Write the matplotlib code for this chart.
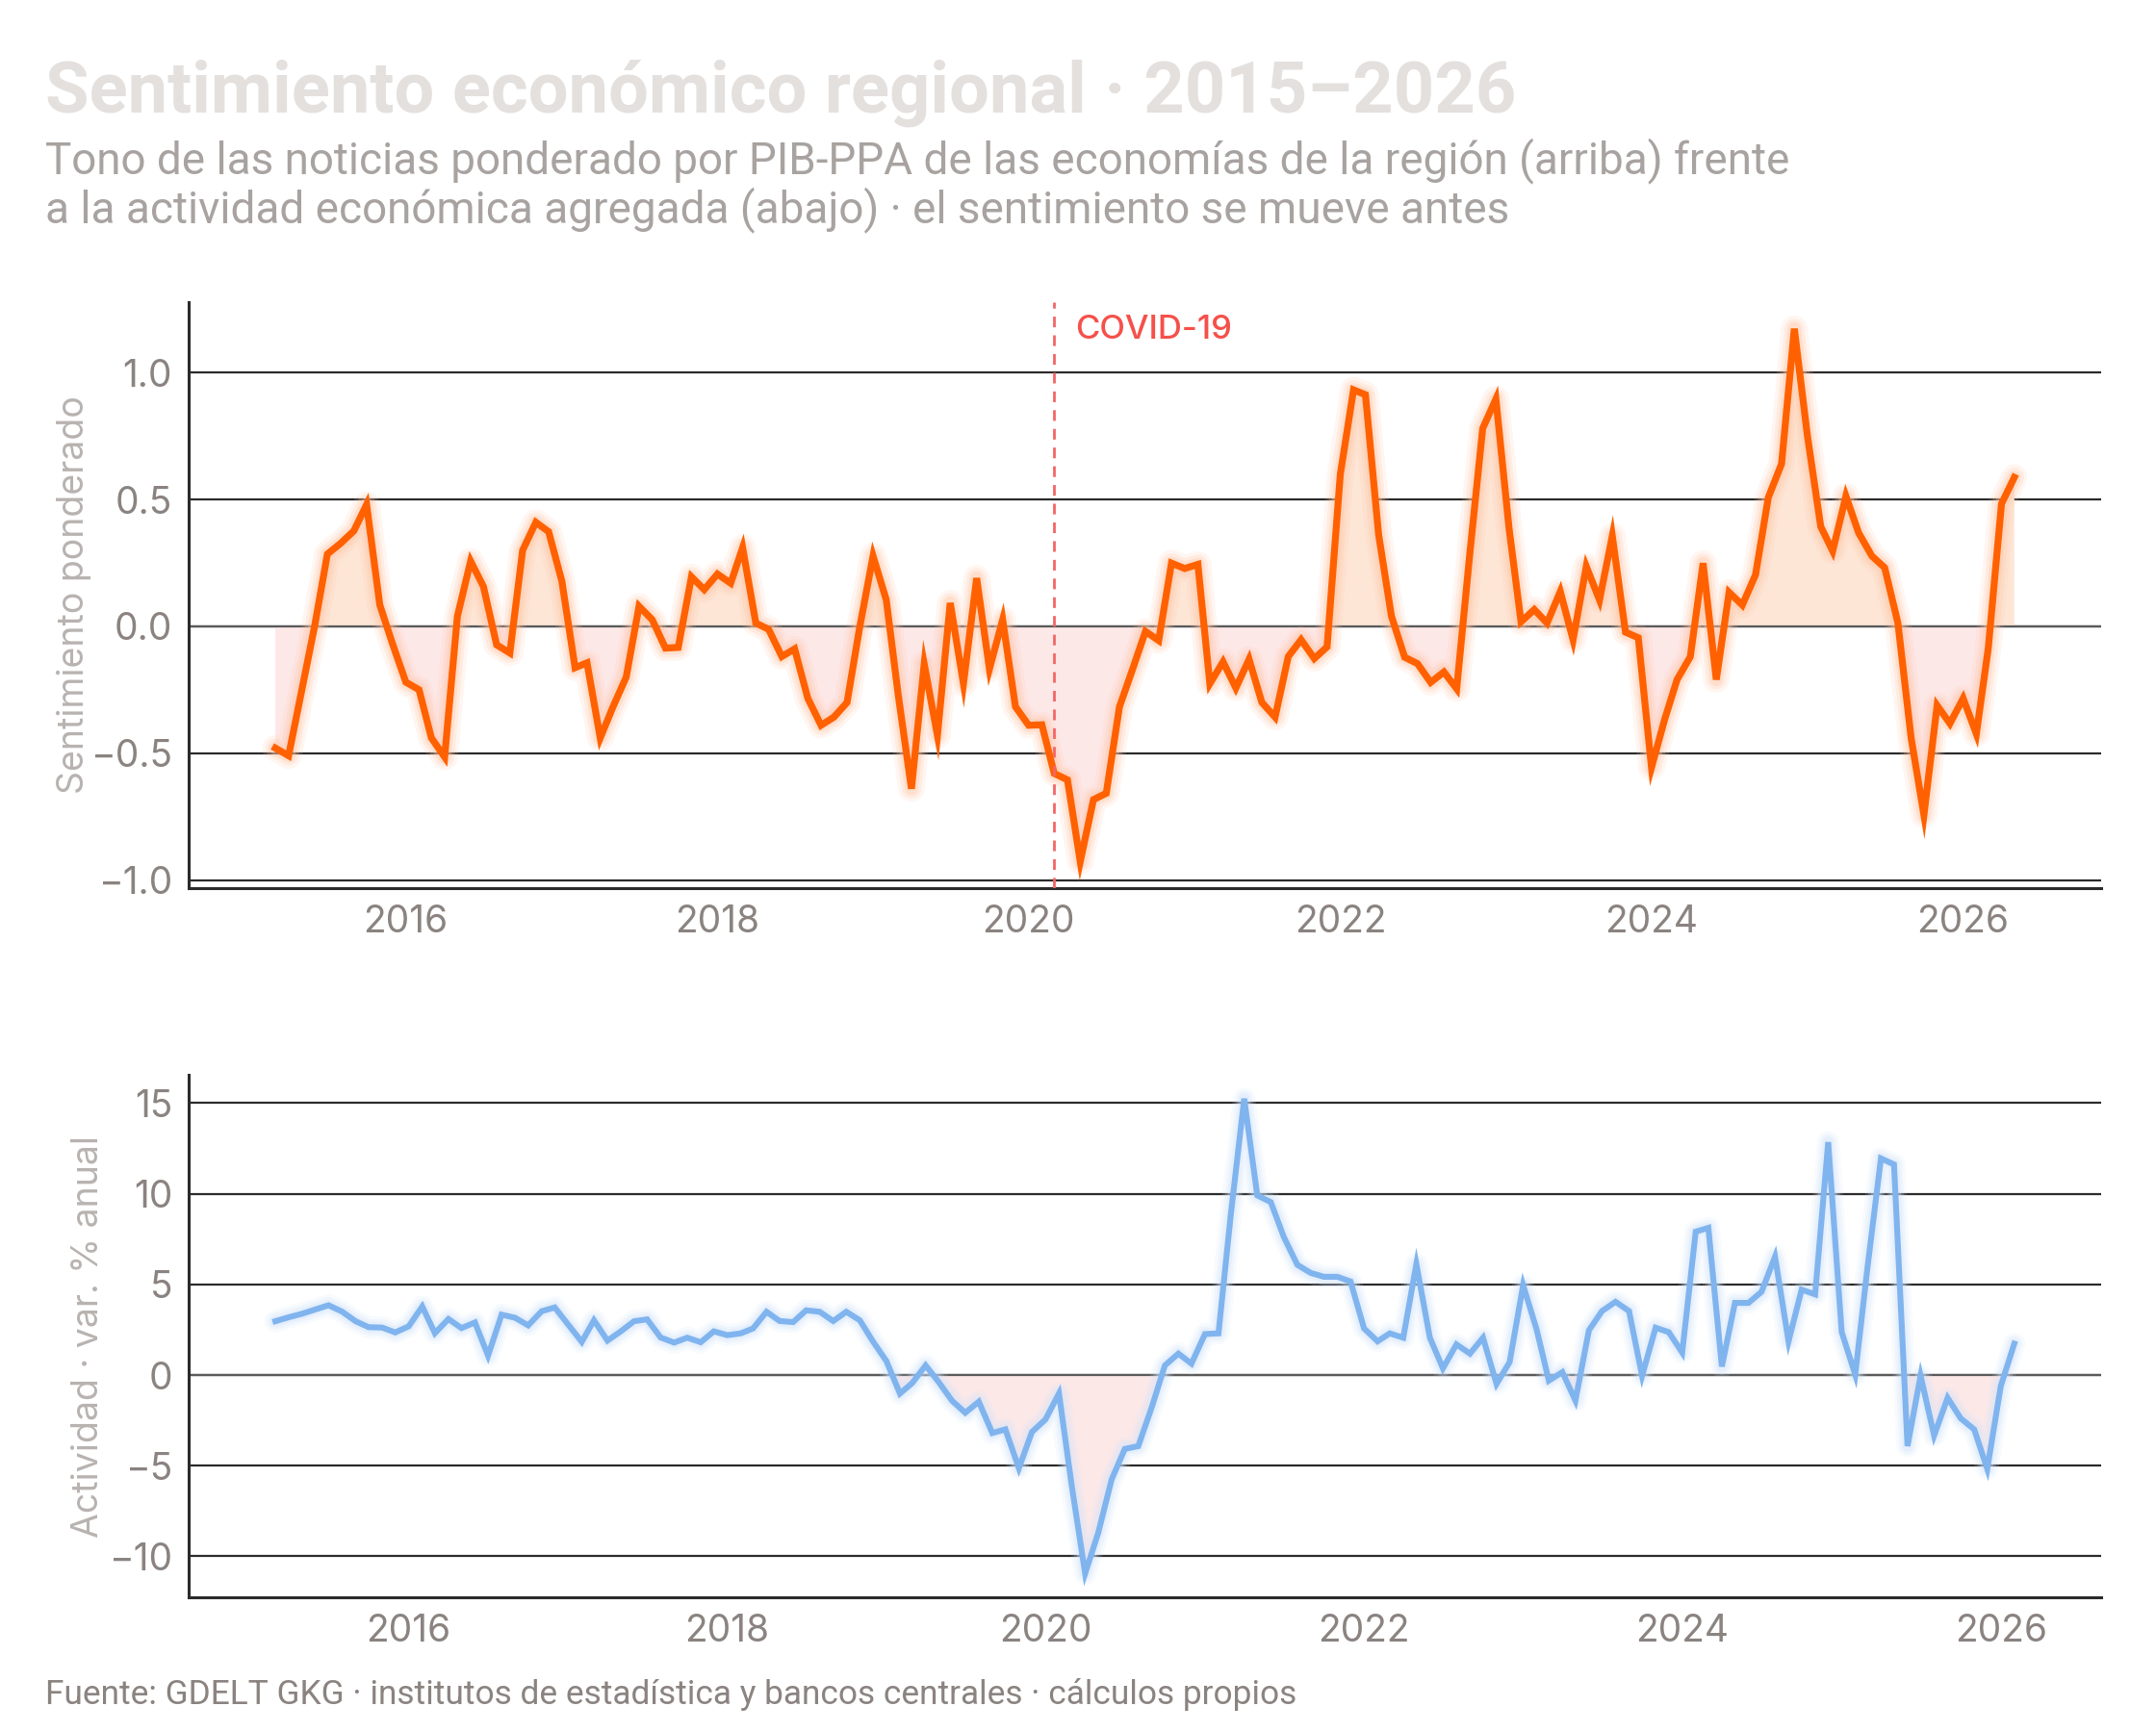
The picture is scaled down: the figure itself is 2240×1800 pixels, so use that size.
import numpy as np
import pandas as pd
import matplotlib
matplotlib.use('Agg')
import matplotlib.pyplot as plt
import matplotlib.dates as mdates

# weighted news tone, monthly 2015-03 .. 2026-05
sentiment = [
    -0.48, -0.51, -0.26, 0.00, 0.285, 0.327, 0.376, 0.48, 0.084, -0.07,
    -0.22, -0.25, -0.44, -0.515, 0.04, 0.257, 0.157, -0.073, -0.105, 0.30,
    0.41, 0.373, 0.178, -0.163, -0.144, -0.44, -0.317, -0.20, 0.079, 0.026,
    -0.086, -0.083, 0.195, 0.145, 0.206, 0.17, 0.31, 0.013, -0.012, -0.119,
    -0.089, -0.284, -0.39, -0.358, -0.30, 0.00, 0.277, 0.104, -0.27, -0.64,
    -0.149, -0.43, 0.092, -0.226, 0.19, -0.168, 0.026, -0.317, -0.39, -0.388,
    -0.58, -0.605, -0.927, -0.683, -0.658, -0.317, -0.168, -0.02, -0.056, 0.249,
    0.228, 0.244, -0.226, -0.14, -0.243, -0.13, -0.30, -0.358, -0.119, -0.053,
    -0.127, -0.081, 0.599, 0.932, 0.913, 0.36, 0.04, -0.122, -0.147, -0.221,
    -0.18, -0.246, 0.29, 0.78, 0.896, 0.384, 0.018, 0.066, 0.013, 0.137,
    -0.053, 0.236, 0.104, 0.356, -0.023, -0.045, -0.556, -0.366, -0.21, -0.12,
    0.249, -0.21, 0.134, 0.084, 0.203, 0.508, 0.64, 1.173, 0.748, 0.393,
    0.297, 0.513, 0.368, 0.277, 0.231, 0.013, -0.44, -0.743, -0.312, -0.383,
    -0.284, -0.424, -0.086, 0.483, 0.587,
]

# aggregate activity, yoy %, monthly 2015-03 .. 2026-02
activity = [
    2.97, 3.19, 3.38, 3.62, 3.85, 3.50, 2.97, 2.64, 2.62, 2.35,
    2.69, 3.78, 2.31, 3.09, 2.59, 2.90, 1.07, 3.33, 3.16, 2.74,
    3.52, 3.73, 2.78, 1.83, 3.02, 1.90, 2.40, 2.97, 3.07, 2.07,
    1.79, 2.06, 1.81, 2.41, 2.20, 2.30, 2.57, 3.49, 2.98, 2.92,
    3.57, 3.49, 2.98, 3.49, 3.02, 1.86, 0.77, -1.02, -0.45, 0.53,
    -0.39, -1.43, -2.08, -1.47, -3.20, -3.00, -5.14, -3.14, -2.45, -1.02,
    -6.06, -10.95, -8.71, -5.75, -4.08, -3.92, -1.77, 0.53, 1.18, 0.63,
    2.26, 2.30, 8.8, 15.25, 9.91, 9.54, 7.61, 6.08, 5.63, 5.42,
    5.42, 5.16, 2.57, 1.86, 2.30, 2.06, 6.12, 2.06, 0.37, 1.69,
    1.18, 2.06, -0.49, 0.71, 4.96, 2.51, -0.31, 0.16, -1.41, 2.47,
    3.53, 4.04, 3.53, -0.04, 2.61, 2.37, 1.24, 7.91, 8.12, 0.47,
    3.98, 3.98, 4.59, 6.53, 1.86, 4.71, 4.45, 12.85, 2.37, 0.02,
    5.9, 11.95, 11.62, -3.92, -0.04, -3.34, -1.26, -2.39, -3.00, -5.18,
    -0.61, 1.73,
]

sent_dates = pd.date_range('2015-03-01', periods=len(sentiment), freq='MS')
act_dates = pd.date_range('2015-03-01', periods=len(activity), freq='MS')
covid_date = pd.Timestamp('2020-03-01')

title = 'Sentimiento económico regional · 2015–2026'
subtitle1 = 'Tono de las noticias ponderado por PIB-PPA de las economías de la región (arriba) frente'
subtitle2 = 'a la actividad económica agregada (abajo) · el sentimiento se mueve antes'
source = 'Fuente: GDELT GKG · institutos de estadística y bancos centrales · cálculos propios'

plt.rcParams['font.family'] = ['Inter', 'DejaVu Sans']
HEAD = ['Roboto', 'DejaVu Sans']

TICK_C = '#8a8380'
LABEL_C = '#b8b3b0'
GRID_C = '#2b2b2b'
ORANGE = '#ff6100'
BLUE = '#80b4ee'


def glow_line(ax, x, y, color, halo, width):
    # soft halo: a few wide translucent strokes under the line
    for w, a in [(width * 3.8, 0.14), (width * 2.8, 0.22), (width * 1.9, 0.32)]:
        ax.plot(x, y, color=halo, lw=w, alpha=a, solid_capstyle='round',
                solid_joinstyle='round', zorder=3)
    ax.plot(x, y, color=color, lw=width, solid_joinstyle='miter', zorder=4)


def style_axes(ax):
    for s in ['top', 'right']:
        ax.spines[s].set_visible(False)
    for s in ['left', 'bottom']:
        ax.spines[s].set_color(GRID_C)
        ax.spines[s].set_linewidth(1.1)
    ax.tick_params(length=0, labelsize=14, colors=TICK_C, pad=6)
    ax.grid(axis='y', color=GRID_C, lw=0.8)
    ax.set_axisbelow(True)
    ax.xaxis.set_major_locator(mdates.YearLocator(2))
    ax.xaxis.set_major_formatter(mdates.DateFormatter('%Y'))


fig = plt.figure(figsize=(11.2, 9), dpi=200)

# --- top: sentiment
ax1 = fig.add_axes([0.0874, 0.4872, 0.8872, 0.3384])
style_axes(ax1)
s = np.array(sentiment)
ax1.fill_between(sent_dates, s, 0, where=s >= 0, interpolate=True,
                 color='#fde6d6', lw=0, zorder=2)
ax1.fill_between(sent_dates, s, 0, where=s <= 0, interpolate=True,
                 color='#fde8e8', lw=0, zorder=2)
ax1.axhline(0, color='#5a5a5a', lw=0.8, zorder=2.5)
glow_line(ax1, sent_dates, s, ORANGE, '#ffc4a4', 2.6)
ax1.axvline(covid_date, color='#f26666', lw=1.0, ls=(0, (4, 3)), zorder=5)
ax1.annotate('COVID-19', xy=(covid_date, 0.952), xycoords=('data', 'axes fraction'),
             xytext=(8, 0), textcoords='offset points', va='center', ha='left',
             color='#f5504a', fontsize=12.5, fontweight='medium')
ax1.set_yticks([-1.0, -0.5, 0.0, 0.5, 1.0])
ax1.set_yticklabels(['−1.0', '−0.5', '0.0', '0.5', '1.0'])
ax1.set_ylabel('Sentimiento ponderado', color=LABEL_C, fontsize=13.5, labelpad=-0.5)

# --- bottom: activity
ax2 = fig.add_axes([0.0874, 0.0778, 0.8872, 0.3016])
style_axes(ax2)
a = np.array(activity)
ax2.fill_between(act_dates, a, 0, where=a <= 0, interpolate=True,
                 color='#fde8e8', lw=0, zorder=2)
ax2.axhline(0, color='#5a5a5a', lw=0.8, zorder=2.5)
glow_line(ax2, act_dates, a, BLUE, '#d2e4fb', 2.2)
ax2.set_yticks([-10, -5, 0, 5, 10, 15])
ax2.set_yticklabels(['−10', '−5', '0', '5', '10', '15'])
ax2.set_ylabel('Actividad · var. % anual', color=LABEL_C, fontsize=13.5, labelpad=1)

# --- texts
fig.text(0.021, 0.935, title, fontsize=26.7, fontweight='bold', color='#e4e0de',
         va='baseline', family=HEAD)
fig.text(0.021, 0.900, subtitle1, fontsize=16.5, color='#a8a3a0', va='baseline',
         family=HEAD)
fig.text(0.021, 0.8717, subtitle2, fontsize=16.5, color='#a8a3a0', va='baseline',
         family=HEAD)
fig.text(0.021, 0.0161, source, fontsize=12.7, color=TICK_C, va='baseline',
         family=HEAD)

fig.savefig('out.png', dpi=200)
